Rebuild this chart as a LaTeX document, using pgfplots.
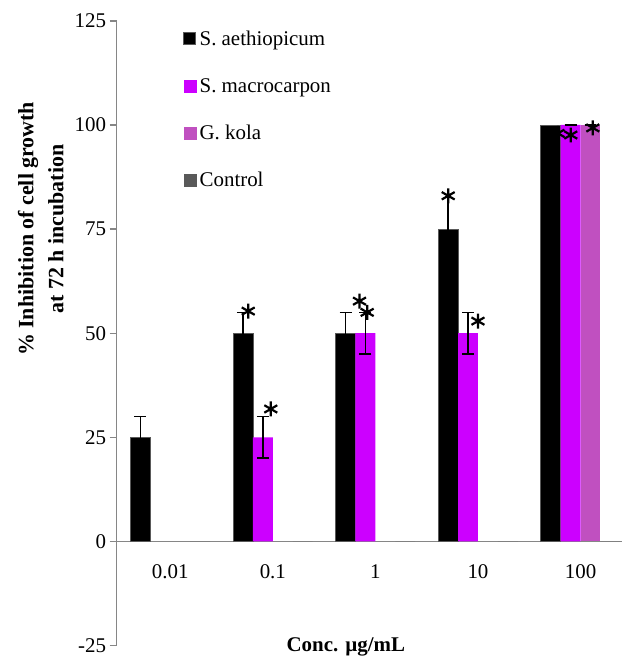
\documentclass[border=0pt]{standalone}
\usepackage{fontspec}
\setmainfont{Liberation Serif}
\usepackage{pgfplots}
\pgfplotsset{compat=1.18}
\definecolor{axgray}{RGB}{134,134,134}
\definecolor{smac}{RGB}{204,0,255}
\definecolor{gkola}{RGB}{192,80,192}
\definecolor{ctrl}{RGB}{89,89,89}
\definecolor{edge}{RGB}{89,89,89}
\begin{document}
\begin{tikzpicture}
\begin{axis}[
  scale only axis, width=507pt, height=627pt,
  xmin=-0.524, xmax=4.40, ymin=-25, ymax=125,
  axis y line=left, axis x line=middle,
  hide obscured x ticks=false, hide obscured y ticks=false,
  axis line style={-, draw=axgray, line width=1.2pt},
  ytick={-25,0,25,50,75,100,125},
  ytick style={draw=axgray, line width=1.2pt},
  major tick length=7pt,
  tick align=outside,
  xtick={0,1,2,3,4}, xticklabels={0.01,0.1,1,10,100},
  xtick style={draw=none},
  xticklabel style={yshift=-13pt},
  tick label style={font=\fontsize{21}{25}\selectfont},
  /pgf/number format/assume math mode=true,
  xlabel={Conc. µg/mL},
  xlabel style={font=\fontsize{21}{25}\selectfont\bfseries, at={(axis description cs:0.454,0)}, anchor=center, yshift=-1pt},
  ylabel={\% Inhibition of cell growth\\at 72 h incubation},
  ylabel style={align=center, font=\fontsize{22}{30}\selectfont\bfseries, at={(axis description cs:-0.150,0.667)}, anchor=center},
  clip=false,
  legend style={at={(axis description cs:0.132,0.99)}, anchor=north west, draw=none, fill=none,
    font=\fontsize{21}{25}\selectfont, row sep=24.5pt, inner sep=0pt,
    nodes={inner sep=3.5pt}},
  legend cell align=left,
]
% legend images
\addlegendimage{legend image code/.code={\fill[black, draw=edge, line width=0.8pt] (0pt,-6pt) rectangle (12pt,6pt);}}
\addlegendentry{S. aethiopicum}
\addlegendimage{legend image code/.code={\fill[smac] (0pt,-6pt) rectangle (12pt,6pt);}}
\addlegendentry{S. macrocarpon}
\addlegendimage{legend image code/.code={\fill[gkola] (0pt,-6pt) rectangle (12pt,6pt);}}
\addlegendentry{G. kola}
\addlegendimage{legend image code/.code={\fill[ctrl] (0pt,-6pt) rectangle (12pt,6pt);}}
\addlegendentry{Control}

% S. aethiopicum (bars placed at category - 0.2913)
\addplot[forget plot, ybar, bar width=20pt, bar shift=0pt, fill=black, draw=edge, line width=0.8pt,
  error bars/.cd, y dir=both, y explicit,
  error bar style={line width=1.4pt, black},
  error mark options={rotate=90, mark size=6pt, line width=1.4pt, black}]
  coordinates {(-0.2913,25) +- (0,5) (0.7087,50) +- (0,5) (1.7087,50) +- (0,5)};
\addplot[forget plot, ybar, bar width=20pt, bar shift=0pt, fill=black, draw=edge, line width=0.8pt,
  error bars/.cd, y dir=both, y explicit, error mark=none,
  error bar style={line width=1.4pt, black}]
  coordinates {(2.7087,75) +- (0,8.5)};
\addplot[forget plot, ybar, bar width=20pt, bar shift=0pt, fill=black, draw=edge, line width=0.8pt]
  coordinates {(3.7087,100)};
% S. macrocarpon (category - 0.0971)
\addplot[forget plot, ybar, bar width=20pt, bar shift=0pt, fill=smac, draw=none,
  error bars/.cd, y dir=both, y explicit,
  error bar style={line width=1.4pt, black},
  error mark options={rotate=90, mark size=6pt, line width=1.4pt, black}]
  coordinates {(0.9029,25) +- (0,5) (1.9029,50) +- (0,5) (2.9029,50) +- (0,5) (3.9029,100) +- (0,0)};
% G. kola (category + 0.0971)
\addplot[forget plot, ybar, bar width=20pt, bar shift=0pt, fill=gkola, draw=none,
  error bars/.cd, y dir=both, y explicit,
  error bar style={line width=1.4pt, black},
  error mark options={rotate=90, mark size=6pt, line width=1.4pt, black}]
  coordinates {(4.0971,100) +- (0,0)};
% Control (all zero, category + 0.2913)
\addplot[forget plot, ybar, bar width=20pt, bar shift=0pt, fill=ctrl, draw=none]
  coordinates {(0.2913,0) (1.2913,0) (2.2913,0) (3.2913,0) (4.2913,0)};
% significance stars
\addplot[forget plot, only marks, mark=asterisk, mark size=7.5pt, line width=2.2pt, black]
  coordinates {(0.76,55.3) (0.98,31.8) (1.845,57.7) (1.92,55) (2.71,83) (3.0,52.9) (3.78,98) (3.905,97.6) (4.12,99.3)};
\path (rel axis cs:0,0) +(-117pt,-11pt) (rel axis cs:1,1) +(0pt,21pt);
\end{axis}
\end{tikzpicture}
\end{document}
